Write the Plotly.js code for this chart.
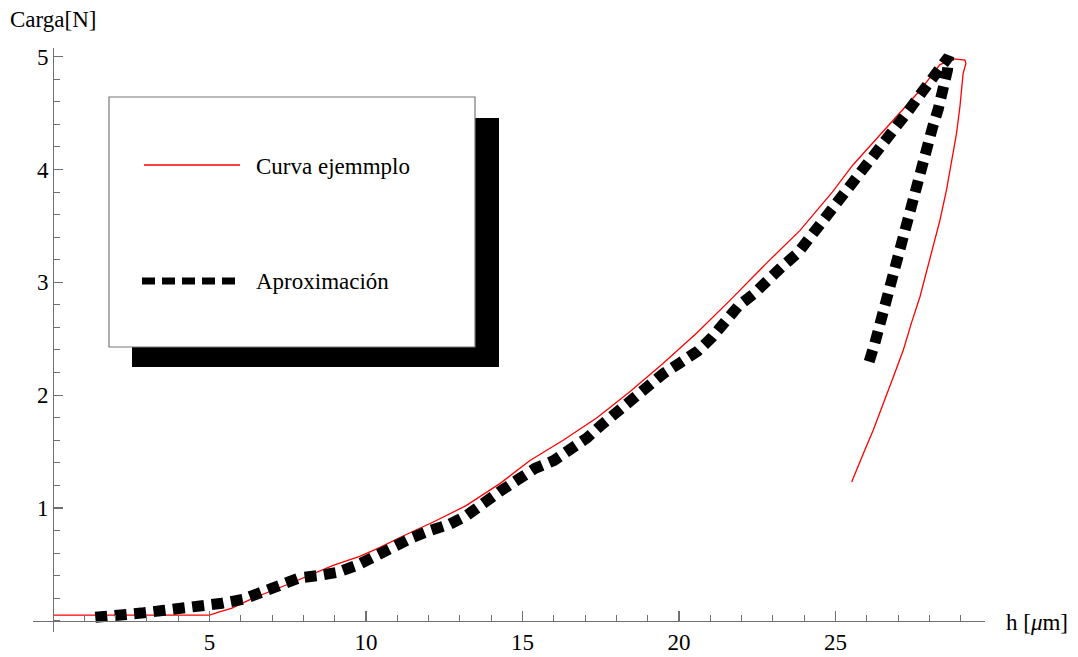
<!DOCTYPE html>
<html>
<head>
<meta charset="utf-8">
<script src="https://cdn.plot.ly/plotly-3.0.1.min.js"></script>
<style>html,body{margin:0;padding:0;background:#fff;}#chart{width:1078px;height:657px;}</style>
</head>
<body>
<div id="chart"></div>
<script>
// Curva ejemplo (measured curve): loading then unloading
const curvaH = [0, 5.0, 5.34, 5.7, 6.0, 6.4, 7.57, 8.95, 9.8, 10.45, 11.1, 12.15, 13.2, 14.3, 15.24, 16.3, 17.38, 18.43, 19.49, 20.57, 21.63, 22.8, 23.87, 24.9, 25.56, 26.4, 27.0, 27.7, 28.34, 28.66, 28.8, 29.14, 29.17,
  29.08, 28.98, 28.87, 28.71, 28.55, 28.34, 28.12, 27.91, 27.7, 27.43, 27.17, 26.85, 26.53, 26.21, 25.89, 25.52];
const curvaF = [0.05, 0.05, 0.08, 0.11, 0.15, 0.20, 0.33, 0.49, 0.57, 0.65, 0.74, 0.875, 1.02, 1.22, 1.42, 1.60, 1.80, 2.03, 2.28, 2.55, 2.84, 3.17, 3.46, 3.80, 4.04, 4.30, 4.48, 4.70, 4.93, 4.96, 4.98, 4.97, 4.94,
  4.85, 4.56, 4.32, 4.05, 3.82, 3.55, 3.32, 3.08, 2.87, 2.64, 2.40, 2.16, 1.93, 1.69, 1.48, 1.23];

// Aproximación (piecewise approximation)
const aproxH = [1.35, 2.2, 2.9, 3.5, 4.2, 4.8, 5.4, 6.07, 6.7, 7.3, 7.87, 8.47, 9.1, 9.7, 10.3, 10.9, 11.5, 12.05, 12.67, 13.2, 13.7, 14.3, 14.85, 15.4, 16.0, 16.5, 17.06, 17.5, 18.0, 18.5, 19.0, 19.5, 20.0, 20.6, 21.05, 21.5, 21.9, 22.4, 22.85, 23.3, 23.8, 24.2, 24.6, 25.0, 25.4, 25.8, 26.2, 26.6, 26.97, 27.36, 27.75, 28.1, 28.5, 28.62,
  28.58, 28.45, 28.28, 28.1, 27.93, 27.77, 27.61, 27.46, 27.32, 27.14, 26.97, 26.8, 26.63, 26.44, 26.26, 26.07, 26.0];
const aproxF = [0.03, 0.04, 0.07, 0.09, 0.11, 0.12, 0.155, 0.19, 0.25, 0.33, 0.38, 0.40, 0.43, 0.49, 0.58, 0.67, 0.74, 0.80, 0.855, 0.93, 1.04, 1.15, 1.25, 1.35, 1.42, 1.51, 1.62, 1.73, 1.85, 1.97, 2.08, 2.19, 2.28, 2.39, 2.51, 2.67, 2.79, 2.90, 3.03, 3.14, 3.26, 3.40, 3.53, 3.67, 3.82, 3.97, 4.10, 4.24, 4.38, 4.53, 4.68, 4.81, 4.95, 5.0,
  4.88, 4.70, 4.53, 4.37, 4.19, 4.01, 3.85, 3.67, 3.49, 3.32, 3.14, 2.98, 2.80, 2.63, 2.46, 2.29, 2.24];

const xTicks = [5, 10, 15, 20, 25];
const yTicks = [1, 2, 3, 4, 5];
const seriesNames = ['Curva ejemmplo', 'Aproximación'];
const xLabel = 'h [<i>μ</i>m]';
const yLabel = 'Carga[N]';

// pixel geometry of plot area
const W = 1078, H = 657;
const L = 33, R = 985, T = 48, B = 632;
const px = x => (x - L) / (R - L);
const py = y => (B - y) / (B - T);

const serif = 'Liberation Serif, Times New Roman, serif';
const axisCol = '#707070';

const traces = [
  {x: curvaH, y: curvaF, mode: 'lines', name: seriesNames[0],
   line: {color: '#ff0000', width: 1.3}, showlegend: false},
  {x: aproxH, y: aproxF, mode: 'lines', name: seriesNames[1],
   line: {color: '#000000', width: 11, dash: '12px,7.5px'}, showlegend: false}
];

const layout = {
  width: W, height: H,
  margin: {l: L, r: W - R, t: T, b: H - B, pad: 0},
  paper_bgcolor: '#fff', plot_bgcolor: 'rgba(0,0,0,0)',
  showlegend: false,
  font: {family: serif, size: 23, color: '#000'},
  xaxis: {
    range: [-0.64, 29.78], anchor: 'free', position: py(620.7),
    showline: true, linecolor: axisCol, linewidth: 1.3,
    showgrid: false, zeroline: false,
    ticks: 'inside', ticklen: 10, tickwidth: 1.2, tickcolor: axisCol,
    tickmode: 'array', tickvals: xTicks, ticktext: xTicks.map(String),
    tickfont: {family: serif, size: 23, color: '#000'},
    minor: {ticks: 'inside', ticklen: 6, tickwidth: 1, tickcolor: axisCol, tickmode: 'linear', tick0: 0, dtick: 1, showgrid: false}
  },
  yaxis: {
    range: [-0.1, 5.077], anchor: 'free', position: px(53),
    showline: true, linecolor: axisCol, linewidth: 1.3,
    showgrid: false, zeroline: false,
    ticks: 'inside', ticklen: 9, tickwidth: 1.2, tickcolor: axisCol,
    tickmode: 'array', tickvals: yTicks, ticktext: yTicks.map(String),
    tickfont: {family: serif, size: 23, color: '#000'},
    minor: {ticks: 'inside', ticklen: 6, tickwidth: 1, tickcolor: axisCol, tickmode: 'linear', tick0: 0, dtick: 0.2, showgrid: false}
  },
  shapes: [
    // legend shadow and box
    {type: 'rect', xref: 'paper', yref: 'paper', x0: px(132), x1: px(499), y0: py(367), y1: py(118),
     fillcolor: '#000', line: {width: 0}, layer: 'above'},
    {type: 'rect', xref: 'paper', yref: 'paper', x0: px(109), x1: px(475), y0: py(347), y1: py(97),
     fillcolor: '#fff', line: {color: '#777', width: 1.2}, layer: 'above'},
    // legend samples
    {type: 'line', xref: 'paper', yref: 'paper', x0: px(144), x1: px(240), y0: py(165), y1: py(165),
     line: {color: '#ff0000', width: 1.3}, layer: 'above'},
    {type: 'line', xref: 'paper', yref: 'paper', x0: px(142), x1: px(236), y0: py(281), y1: py(281),
     line: {color: '#000', width: 7, dash: '13px,7px'}, layer: 'above'}
  ],
  annotations: [
    {xref: 'paper', yref: 'paper', x: px(254), y: py(166), xanchor: 'left', yanchor: 'middle',
     text: seriesNames[0], showarrow: false, font: {family: serif, size: 23, color: '#000'}},
    {xref: 'paper', yref: 'paper', x: px(254), y: py(281), xanchor: 'left', yanchor: 'middle',
     text: seriesNames[1], showarrow: false, font: {family: serif, size: 23, color: '#000'}},
    {xref: 'paper', yref: 'paper', x: px(8), y: py(19), xanchor: 'left', yanchor: 'middle',
     text: yLabel, showarrow: false, font: {family: serif, size: 23, color: '#000'}},
    {xref: 'paper', yref: 'paper', x: px(1004), y: py(622), xanchor: 'left', yanchor: 'middle',
     text: xLabel, showarrow: false, font: {family: serif, size: 23, color: '#000'}}
  ]
};

Plotly.newPlot('chart', traces, layout, {staticPlot: true, displayModeBar: false});
</script>
</body>
</html>
